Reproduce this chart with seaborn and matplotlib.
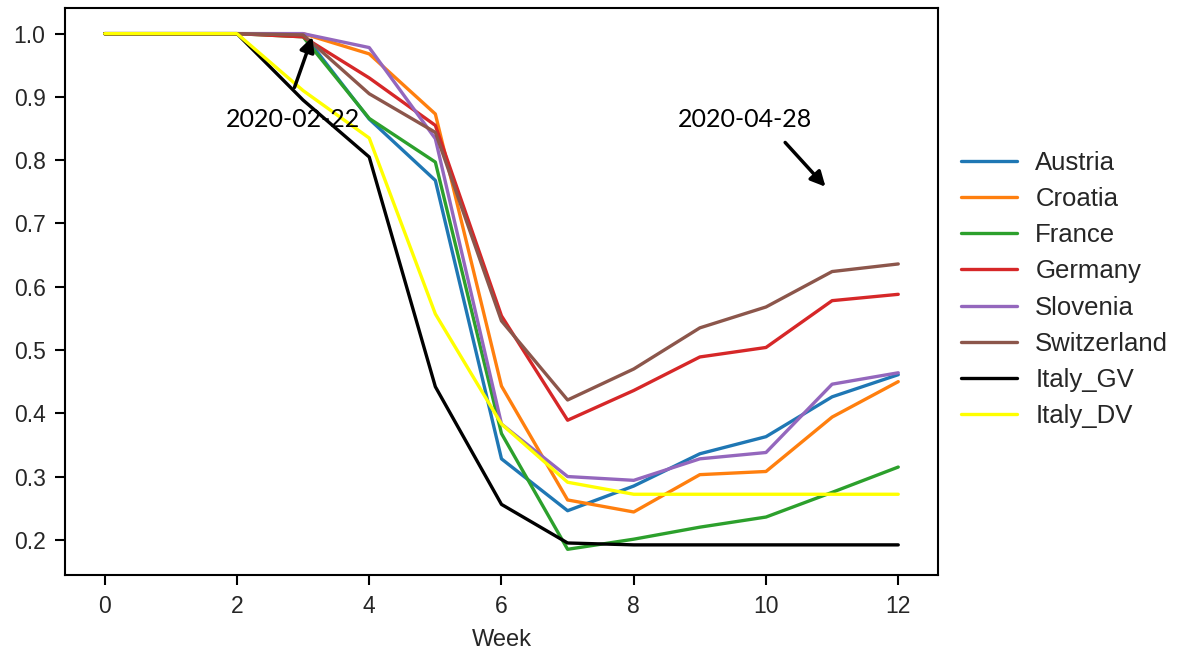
import numpy as np
import pandas as pd
import matplotlib
matplotlib.use("Agg")
import matplotlib.pyplot as plt
import seaborn as sns

weeks = [0, 1, 2, 3, 4, 5, 6, 7, 8, 9, 10, 11, 12]

austria     = [1.0, 1.0, 1.0, 1.0,   0.865, 0.768, 0.328, 0.246, 0.285, 0.336, 0.363, 0.426, 0.461]
croatia     = [1.0, 1.0, 1.0, 1.0,   0.968, 0.873, 0.443, 0.263, 0.244, 0.303, 0.308, 0.394, 0.450]
france      = [1.0, 1.0, 1.0, 0.995, 0.866, 0.797, 0.368, 0.185, 0.201, 0.220, 0.236, 0.275, 0.315]
germany     = [1.0, 1.0, 1.0, 0.995, 0.930, 0.855, 0.554, 0.389, 0.436, 0.489, 0.504, 0.578, 0.588]
slovenia    = [1.0, 1.0, 1.0, 1.0,   0.978, 0.834, 0.383, 0.300, 0.294, 0.328, 0.338, 0.446, 0.464]
switzerland = [1.0, 1.0, 1.0, 0.998, 0.905, 0.844, 0.546, 0.421, 0.470, 0.535, 0.568, 0.624, 0.636]
italy_gv    = [1.0, 1.0, 1.0, 0.895, 0.805, 0.442, 0.256, 0.195, 0.192, 0.192, 0.192, 0.192, 0.192]
italy_dv    = [1.0, 1.0, 1.0, 0.910, 0.835, 0.557, 0.383, 0.291, 0.272, 0.272, 0.272, 0.272, 0.272]

series_names = ["Austria", "Croatia", "France", "Germany", "Slovenia",
                "Switzerland", "Italy_GV", "Italy_DV"]
series_values = [austria, croatia, france, germany, slovenia,
                 switzerland, italy_gv, italy_dv]
colors = ["#1f77b4", "#ff7f0e", "#2ca02c", "#d62728", "#9467bd",
          "#8c564b", "#000000", "#ffff00"]

x_ticks = [0, 2, 4, 6, 8, 10, 12]
y_ticks = [0.2, 0.3, 0.4, 0.5, 0.6, 0.7, 0.8, 0.9, 1.0]

records = []
for name, vals in zip(series_names, series_values):
    for w, v in zip(weeks, vals):
        records.append({"Week": w, "value": v, "country": name})
df = pd.DataFrame(records)

sns.set_theme(style="ticks")
plt.rcParams["font.family"] = ["Liberation Sans", "DejaVu Sans"]

fig = plt.figure(figsize=(11.78, 6.55), dpi=100)
ax = fig.add_axes([0.0552, 0.122, 0.7410, 0.866])

sns.lineplot(data=df, x="Week", y="value", hue="country",
             hue_order=series_names, palette=colors, linewidth=2.4, ax=ax)

ax.set_xticks(x_ticks)
ax.set_yticks(y_ticks)
ax.set_yticklabels([f"{v:.1f}" for v in y_ticks])
ax.set_xlabel("Week", fontsize=17, labelpad=8)
ax.set_ylabel("")
ax.tick_params(labelsize=16.5, length=7, width=1.5, color="black", pad=7)
for s in ax.spines.values():
    s.set_color("black")
    s.set_linewidth(1.5)
    s.set_visible(True)

handles, labels = ax.get_legend_handles_labels()
ax.legend_.remove()
fig.legend(handles, labels, loc="center left", bbox_to_anchor=(0.796, 0.558),
           frameon=False, fontsize=18.5, handlelength=2.2, handletextpad=0.7,
           labelspacing=0.47)

# Date labels with arrows pointing at the corresponding weeks
ann_font = dict(family=["Lato", "DejaVu Sans"], fontsize=18, color="black",
                ha="center", va="center")
arrow = dict(arrowstyle="-|>", color="black", lw=2.5,
             mutation_scale=22, shrinkA=0, shrinkB=0)
ax.text(2.85, 0.864, "2020-02-22", **ann_font)
ax.annotate("", xy=(3.14, 0.995), xytext=(2.87, 0.915), arrowprops=arrow)
ax.text(9.68, 0.864, "2020-04-28", **ann_font)
ax.annotate("", xy=(10.9, 0.758), xytext=(10.29, 0.828), arrowprops=arrow)

fig.savefig("out.png", dpi=100)
